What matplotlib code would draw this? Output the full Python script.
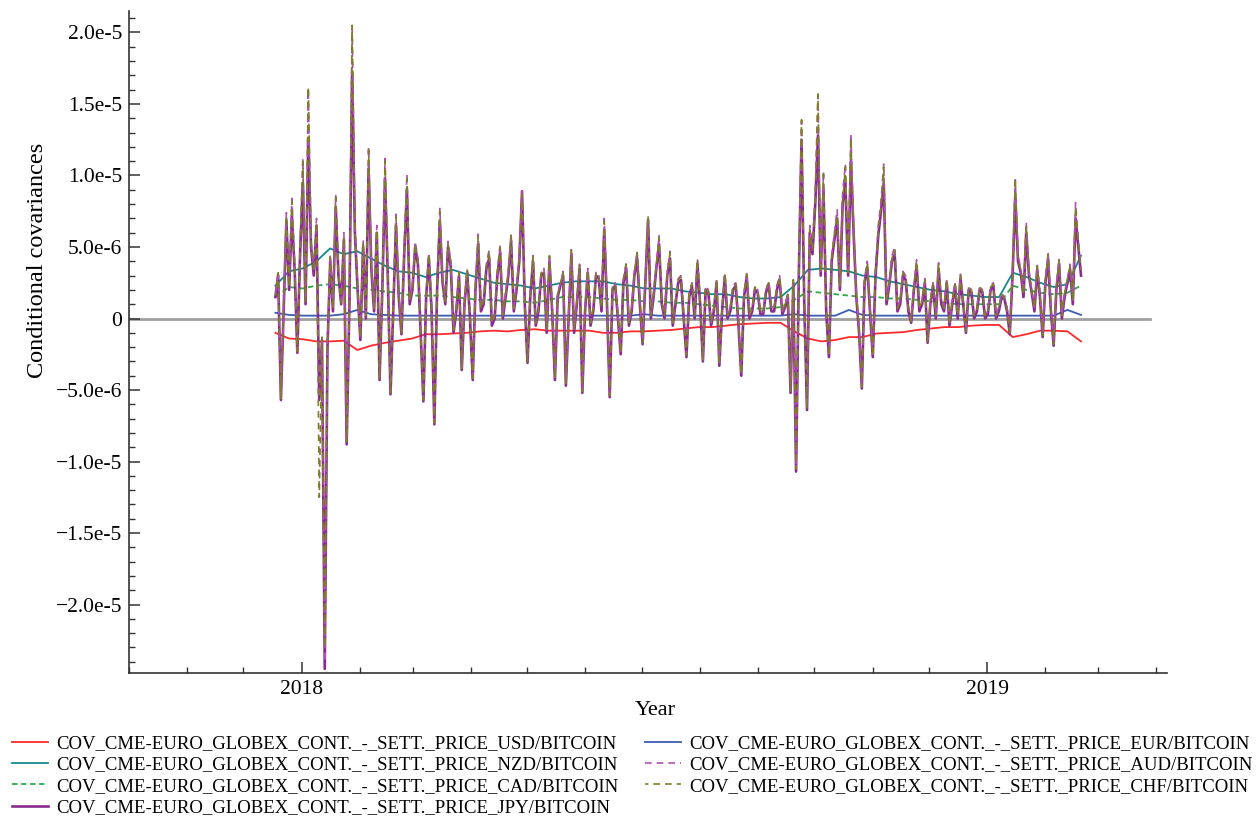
import numpy as np
import pandas as pd
import matplotlib
matplotlib.use("Agg")
import matplotlib.pyplot as plt
import matplotlib.dates as mdates
from matplotlib.ticker import MultipleLocator, FuncFormatter

# ---------------- data (values in units of 1e-6) ----------------
start_date = "2017-12-18"
end_date = "2019-02-20"

usd = [-1.0, -1.4, -1.45, -1.6, -1.6, -1.55, -2.2, -1.9, -1.7, -1.55,
       -1.4, -1.1, -1.1, -1.05, -1.0, -0.9, -0.85, -0.9, -0.8, -0.75,
       -0.85, -0.85, -0.85, -0.85, -1.0, -1.0, -0.9, -0.9, -0.85, -0.8,
       -0.7, -0.6, -0.6, -0.5, -0.4, -0.35, -0.3, -0.3, -0.9, -1.4,
       -1.6, -1.5, -1.3, -1.3, -1.05, -1.0, -0.95, -0.8, -0.7, -0.6,
       -0.6, -0.5, -0.45, -0.45, -1.3, -1.1, -0.85, -0.85, -0.9, -1.6]

eur = [0.4, 0.25, 0.2, 0.2, 0.2, 0.3, 0.6, 0.3, 0.25, 0.2,
       0.2, 0.2, 0.2, 0.2, 0.2, 0.2, 0.2, 0.2, 0.2, 0.2,
       0.2, 0.2, 0.2, 0.2, 0.2, 0.2, 0.2, 0.3, 0.2, 0.2,
       0.2, 0.2, 0.2, 0.2, 0.2, 0.2, 0.2, 0.2, 0.3, 0.2,
       0.2, 0.2, 0.6, 0.25, 0.2, 0.2, 0.2, 0.2, 0.2, 0.2,
       0.2, 0.2, 0.2, 0.2, 0.2, 0.2, 0.2, 0.2, 0.6, 0.25]

nzd = [2.3, 3.3, 3.5, 4.0, 4.9, 4.5, 4.7, 4.2, 3.7, 3.3,
       3.2, 2.9, 3.2, 3.4, 3.1, 2.8, 2.5, 2.4, 2.3, 2.1,
       2.3, 2.5, 2.6, 2.6, 2.6, 2.4, 2.3, 2.1, 2.1, 2.1,
       1.9, 1.8, 1.7, 1.7, 1.5, 1.4, 1.4, 1.5, 2.3, 3.4,
       3.5, 3.4, 3.3, 3.0, 2.9, 2.6, 2.4, 2.2, 2.0, 1.9,
       1.7, 1.6, 1.5, 1.5, 3.2, 2.9, 2.5, 2.2, 2.4, 4.4]

cad = [1.5, 2.2, 2.1, 2.3, 2.4, 2.3, 2.1, 2.0, 1.9, 1.8,
       1.6, 1.6, 1.6, 1.5, 1.4, 1.3, 1.3, 1.2, 1.2, 1.1,
       1.3, 1.5, 1.5, 1.5, 1.4, 1.3, 1.3, 1.2, 1.2, 1.1,
       1.1, 1.0, 0.9, 0.8, 0.7, 0.7, 0.7, 0.8, 1.3, 1.9,
       1.8, 1.7, 1.6, 1.5, 1.5, 1.4, 1.4, 1.3, 1.2, 1.1,
       1.0, 1.0, 1.0, 1.0, 2.3, 2.0, 1.8, 1.7, 1.8, 2.3]

jpy = [1.5, 3.0, -5.7, 0.5, 6.8, 2.0, 7.2, 3.5, -2.4, 4.5,
       9.5, 1.0, 12.6, 5.0, 3.0, 6.5, -5.7, -1.5, -24.5, -2.0,
       4.0, 0.5, 7.8, 3.0, 1.0, 5.5, -8.8, 1.0, 17.2, 6.0,
       2.0, -1.5, 5.0, 0.0, 10.5, 3.5, 0.5, 6.0, -4.3, 2.0,
       9.8, 3.0, -5.3, 0.5, 6.5, 1.5, -1.1, 4.5, 9.0, 1.0,
       2.0, 5.0, 3.8, -1.0, -5.8, 1.5, 4.2, 0.5, -7.4, 2.0,
       6.8, 2.5, 1.0, 5.0, 3.6, -1.0, 0.5, 3.0, -3.6, 1.0,
       3.2, 0.0, -4.3, 2.0, 5.2, 0.5, 1.0, 3.5, 4.2, -0.5,
       0.0, 3.0, 4.6, 0.0, 1.5, 3.0, 5.4, 0.5, 2.0, 4.0,
       8.9, 1.0, -3.1, 1.5, 4.0, -0.5, 0.5, 3.0, 3.2, -1.0,
       4.0, 0.5, -4.3, 1.5, 2.3, 3.0, -4.7, 0.0, 4.5, -1.0,
       1.0, 3.5, -5.2, 0.5, 3.2, -0.5, 0.5, 3.0, 2.8, 0.5,
       6.2, 1.0, -5.5, 2.0, 2.3, 0.0, -2.5, 2.5, 3.5, -0.5,
       0.5, 3.0, 4.2, 1.0, -1.8, 2.5, 6.9, 0.0, 1.5, 3.5,
       5.2, 1.0, 0.0, 3.0, 4.2, -0.5, 1.0, 2.5, 2.7, 0.0,
       -2.7, 1.5, 2.3, 0.0, 3.8, 1.0, -3.0, 2.0, 1.8, -0.5,
       0.5, 2.5, -3.3, 0.5, 2.9, 0.0, 0.5, 2.0, 2.3, -0.5,
       -4.0, 1.5, 2.9, 0.0, 0.5, 2.0, 1.8, 0.3, 0.3, 1.8,
       2.4, 0.5, 0.5, 2.0, 2.7, 0.3, 0.8, 1.5, -5.2, 2.5,
       -10.7, 3.0, 12.5, 1.0, -6.4, 6.0, 4.5, 8.0, 12.8, 3.0,
       9.0, 0.5, -2.7, 4.0, 5.5, 7.0, 2.0, 8.0, 9.5, 3.0,
       11.0, 6.0, 1.5, -1.0, -4.9, 2.5, 3.6, 0.5, -2.7, 3.0,
       5.8, 7.5, 9.5, 1.0, 2.3, 4.0, 4.5, 0.5, 1.0, 3.0,
       2.7, 0.5, -0.3, 2.0, 3.7, 0.5, 1.0, 2.5, -1.7, 1.0,
       2.3, 0.0, 3.5, 1.0, 0.5, 2.5, -0.5, 1.0, 2.3, 0.0,
       2.8, 1.0, -1.0, 2.0, 1.8, 0.0, 0.5, 2.0, 1.8, 0.0,
       0.3, 2.0, 2.3, 0.0, 0.5, 1.5, 1.4, 0.5, -1.1, 3.0,
       8.5, 4.0, 3.2, 1.5, 6.0, 3.0, 1.8, 0.5, 3.4, 1.5,
       -1.3, 2.5, 4.1, 0.5, -1.9, 2.0, 3.8, 0.0, 1.5, 2.5,
       3.4, 1.0, 7.0, 5.0, 3.0]

aud = [1.8, 3.3, -5.5, 0.8, 7.4, 2.3, 8.4, 3.8, -2.2, 4.8,
       11.2, 1.3, 16.0, 5.4, 3.5, 7.0, -5.5, -1.3, -24.0, -1.8,
       4.5, 0.8, 8.7, 3.3, 1.2, 6.0, -8.5, 1.3, 20.3, 6.5,
       2.3, -1.3, 5.5, 0.3, 12.0, 3.8, 0.8, 6.5, -4.1, 2.3,
       11.2, 3.3, -5.1, 0.8, 7.3, 1.8, -0.9, 4.9, 10.1, 1.3,
       2.3, 5.4, 4.2, -0.8, -5.6, 1.8, 4.6, 0.8, -7.2, 2.3,
       7.7, 2.8, 1.3, 5.4, 4.0, -0.8, 0.8, 3.3, -3.4, 1.3,
       3.5, 0.3, -4.1, 2.3, 5.9, 0.8, 1.3, 3.8, 4.8, -0.3,
       0.3, 3.3, 5.2, 0.3, 1.8, 3.3, 6.0, 0.8, 2.3, 4.4,
       8.9, 1.3, -2.9, 1.8, 4.4, -0.3, 0.8, 3.3, 3.5, -0.8,
       4.5, 0.8, -4.1, 1.8, 2.5, 3.3, -4.5, 0.3, 4.9, -0.8,
       1.3, 3.8, -5.0, 0.8, 3.5, -0.3, 0.8, 3.3, 3.0, 0.8,
       7.0, 1.3, -5.3, 2.3, 2.5, 0.3, -2.3, 2.8, 3.9, -0.3,
       0.8, 3.3, 4.7, 1.3, -1.6, 2.8, 6.9, 0.3, 1.8, 3.8,
       5.8, 1.3, 0.3, 3.3, 4.7, -0.3, 1.3, 2.8, 3.0, 0.3,
       -2.5, 1.8, 2.5, 0.3, 4.2, 1.3, -2.8, 2.3, 2.0, -0.3,
       0.8, 2.8, -3.1, 0.8, 3.2, 0.3, 0.8, 2.3, 2.5, -0.3,
       -3.8, 1.8, 3.2, 0.3, 0.8, 2.3, 2.0, 0.5, 0.5, 2.0,
       2.6, 0.8, 0.8, 2.3, 3.0, 0.5, 1.0, 1.8, -5.0, 2.8,
       -10.3, 3.3, 13.8, 1.3, -6.2, 6.5, 5.0, 8.8, 15.6, 3.3,
       10.3, 0.8, -2.5, 4.4, 6.0, 7.6, 2.3, 8.8, 10.8, 3.3,
       12.9, 6.5, 1.8, -0.8, -4.7, 2.8, 4.0, 0.8, -2.5, 3.3,
       6.5, 8.2, 10.8, 1.3, 2.5, 4.4, 5.0, 0.8, 1.3, 3.3,
       3.0, 0.8, -0.1, 2.3, 4.1, 0.8, 1.3, 2.8, -1.5, 1.3,
       2.5, 0.3, 3.9, 1.3, 0.8, 2.8, -0.3, 1.3, 2.5, 0.3,
       3.1, 1.3, -0.8, 2.3, 2.0, 0.3, 0.8, 2.3, 2.0, 0.3,
       0.5, 2.3, 2.5, 0.3, 0.8, 1.8, 1.5, 0.8, -0.9, 3.3,
       9.7, 4.4, 3.5, 1.8, 6.7, 3.3, 2.0, 0.8, 3.8, 1.8,
       -1.1, 2.8, 4.6, 0.8, -1.7, 2.3, 4.2, 0.3, 1.8, 2.8,
       3.8, 1.3, 8.1, 5.5, 3.5]

chf = [1.6, 3.2, -5.6, 0.7, 7.2, 2.2, 8.2, 3.7, -2.3, 4.7,
       11.0, 1.2, 16.2, 5.2, 3.3, 6.7, -12.5, -1.3, -23.0, -1.8,
       4.3, 0.7, 8.5, 3.2, 1.1, 5.7, -8.6, 1.2, 20.5, 6.2,
       2.2, -1.3, 5.3, 0.2, 11.8, 3.7, 0.7, 6.2, -4.2, 2.2,
       11.0, 3.2, -5.2, 0.7, 7.1, 1.7, -1.0, 4.7, 9.8, 1.2,
       2.2, 5.2, 4.0, -0.8, -5.7, 1.7, 4.5, 0.7, -7.3, 2.2,
       7.5, 2.7, 1.2, 5.2, 3.9, -0.8, 0.7, 3.2, -3.5, 1.2,
       3.4, 0.2, -4.2, 2.2, 5.7, 0.7, 1.2, 3.7, 4.7, -0.3,
       0.2, 3.2, 5.0, 0.2, 1.7, 3.2, 5.8, 0.7, 2.2, 4.2,
       8.7, 1.2, -3.0, 1.7, 4.3, -0.3, 0.7, 3.2, 3.4, -0.8,
       4.4, 0.7, -4.2, 1.7, 2.4, 3.2, -4.6, 0.2, 4.8, -0.8,
       1.2, 3.7, -5.1, 0.7, 3.4, -0.3, 0.7, 3.2, 2.9, 0.7,
       6.8, 1.2, -5.4, 2.2, 2.4, 0.2, -2.4, 2.7, 3.8, -0.3,
       0.7, 3.2, 4.6, 1.2, -1.7, 2.7, 7.1, 0.2, 1.7, 3.7,
       5.7, 1.2, 0.2, 3.2, 4.6, -0.3, 1.2, 2.7, 2.9, 0.2,
       -2.6, 1.7, 2.4, 0.2, 4.1, 1.2, -2.9, 2.2, 1.9, -0.3,
       0.7, 2.7, -3.2, 0.7, 3.1, 0.2, 0.7, 2.2, 2.4, -0.3,
       -3.9, 1.7, 3.1, 0.2, 0.7, 2.2, 1.9, 0.5, 0.4, 2.0,
       2.5, 0.7, 0.7, 2.2, 2.9, 0.5, 0.9, 1.7, -5.1, 2.7,
       -10.5, 3.2, 13.9, 1.2, -6.3, 6.2, 4.8, 8.2, 15.7, 3.2,
       10.1, 0.7, -2.6, 4.2, 5.8, 7.2, 2.2, 8.2, 10.6, 3.2,
       12.6, 6.2, 1.7, -0.8, -4.8, 2.7, 3.9, 0.7, -2.6, 3.2,
       6.3, 7.7, 10.6, 1.2, 2.4, 4.2, 4.8, 0.7, 1.2, 3.2,
       2.9, 0.7, -0.2, 2.2, 4.0, 0.7, 1.2, 2.7, -1.6, 1.2,
       2.4, 0.2, 3.8, 1.2, 0.7, 2.7, -0.4, 1.2, 2.4, 0.2,
       3.0, 1.2, -0.9, 2.2, 1.9, 0.2, 0.7, 2.2, 1.9, 0.2,
       0.4, 2.2, 2.4, 0.2, 0.7, 1.7, 1.4, 0.7, -1.0, 3.2,
       9.8, 4.2, 3.4, 1.7, 6.5, 3.2, 1.9, 0.7, 3.7, 1.7,
       -1.2, 2.7, 4.5, 0.7, -1.8, 2.2, 4.1, 0.2, 1.7, 2.7,
       3.7, 1.2, 7.8, 5.2, 3.4]

prefix = "COV_CME-EURO_GLOBEX_CONT._-_SETT._PRICE_"
currencies = ["USD", "EUR", "NZD", "AUD", "CAD", "CHF", "JPY"]

# ---------------- figure ----------------
plt.rcParams["font.family"] = ["Liberation Serif", "DejaVu Serif"]
plt.rcParams["axes.unicode_minus"] = True

fig = plt.figure(figsize=(12.58, 8.21), dpi=100)
ax = fig.add_axes([0.1025, 0.180, 0.8255, 0.8066])

scale = 1e-6


def dates_for(vals):
    return pd.date_range(start_date, end_date, periods=len(vals))


ax.axhline(0, xmin=0, xmax=0.983, color="#a0a0a0", lw=2.0, zorder=1)

lines = {}
lines["USD"], = ax.plot(dates_for(usd), np.array(usd) * scale,
                        color="#ff2a2a", lw=1.3, zorder=2)
lines["EUR"], = ax.plot(dates_for(eur), np.array(eur) * scale,
                        color="#3c5cb4", lw=1.3, zorder=2)
lines["NZD"], = ax.plot(dates_for(nzd), np.array(nzd) * scale,
                        color="#108c8c", lw=1.3, zorder=2)
lines["CAD"], = ax.plot(dates_for(cad), np.array(cad) * scale,
                        color="#2eaa4a", lw=1.3, ls=(0, (3, 2)), zorder=2)
lines["JPY"], = ax.plot(dates_for(jpy), np.array(jpy) * scale,
                        color="#8a2c8e", lw=1.9, zorder=3)
lines["AUD"], = ax.plot(dates_for(aud), np.array(aud) * scale,
                        color="#b050b0", lw=1.2, ls=(0, (4, 3)), zorder=4)
lines["CHF"], = ax.plot(dates_for(chf), np.array(chf) * scale,
                        color="#7e7e28", lw=1.2, ls=(2, (4, 3)), zorder=5)

# axes limits / spines
ax.set_xlim(pd.Timestamp("2017-10-01"), pd.Timestamp("2019-04-07"))
ax.set_ylim(-24.8e-6, 21.5e-6)
for s in ["top", "right"]:
    ax.spines[s].set_visible(False)
for s in ["left", "bottom"]:
    ax.spines[s].set_linewidth(1.2)
    ax.spines[s].set_color("#333333")

# y ticks
ax.yaxis.set_major_locator(MultipleLocator(5e-6))
ax.yaxis.set_minor_locator(MultipleLocator(1e-6))


def yfmt(v, pos):
    if abs(v) < 1e-12:
        return "0"
    m, e = f"{abs(v):.1e}".split("e")
    s = f"{m}e{int(e)}"
    return ("\u2212" + s) if v < 0 else s


ax.yaxis.set_major_formatter(FuncFormatter(yfmt))

# x ticks
ax.xaxis.set_major_locator(mdates.YearLocator())
ax.xaxis.set_major_formatter(mdates.DateFormatter("%Y"))
ax.xaxis.set_minor_locator(mdates.MonthLocator())

ax.tick_params(which="major", direction="in", length=8, width=1.1,
               labelsize=15.5, pad=5, color="#333333")
ax.tick_params(which="minor", direction="in", length=4.5, width=1.0,
               color="#333333")

ax.set_ylabel("Conditional covariances", fontsize=17.5)
ax.yaxis.set_label_coords(-0.078, 0.624)
ax.set_xlabel("Year", fontsize=16)
ax.xaxis.set_label_coords(0.507, -0.042)

# legend
order = ["USD", "NZD", "CAD", "JPY", "EUR", "AUD", "CHF"]
handles = [lines[c] for c in order]
labels = [prefix + c + "/BITCOIN" for c in order]
fig.legend(handles, labels, loc="upper left", bbox_to_anchor=(0.0095, 0.1045),
           ncol=2, frameon=False, fontsize=13.5, handlelength=1.9,
           handletextpad=0.45, columnspacing=1.45, labelspacing=0.22,
           borderpad=0, borderaxespad=0, bbox_transform=fig.transFigure)

fig.savefig("out.png", dpi=100)
